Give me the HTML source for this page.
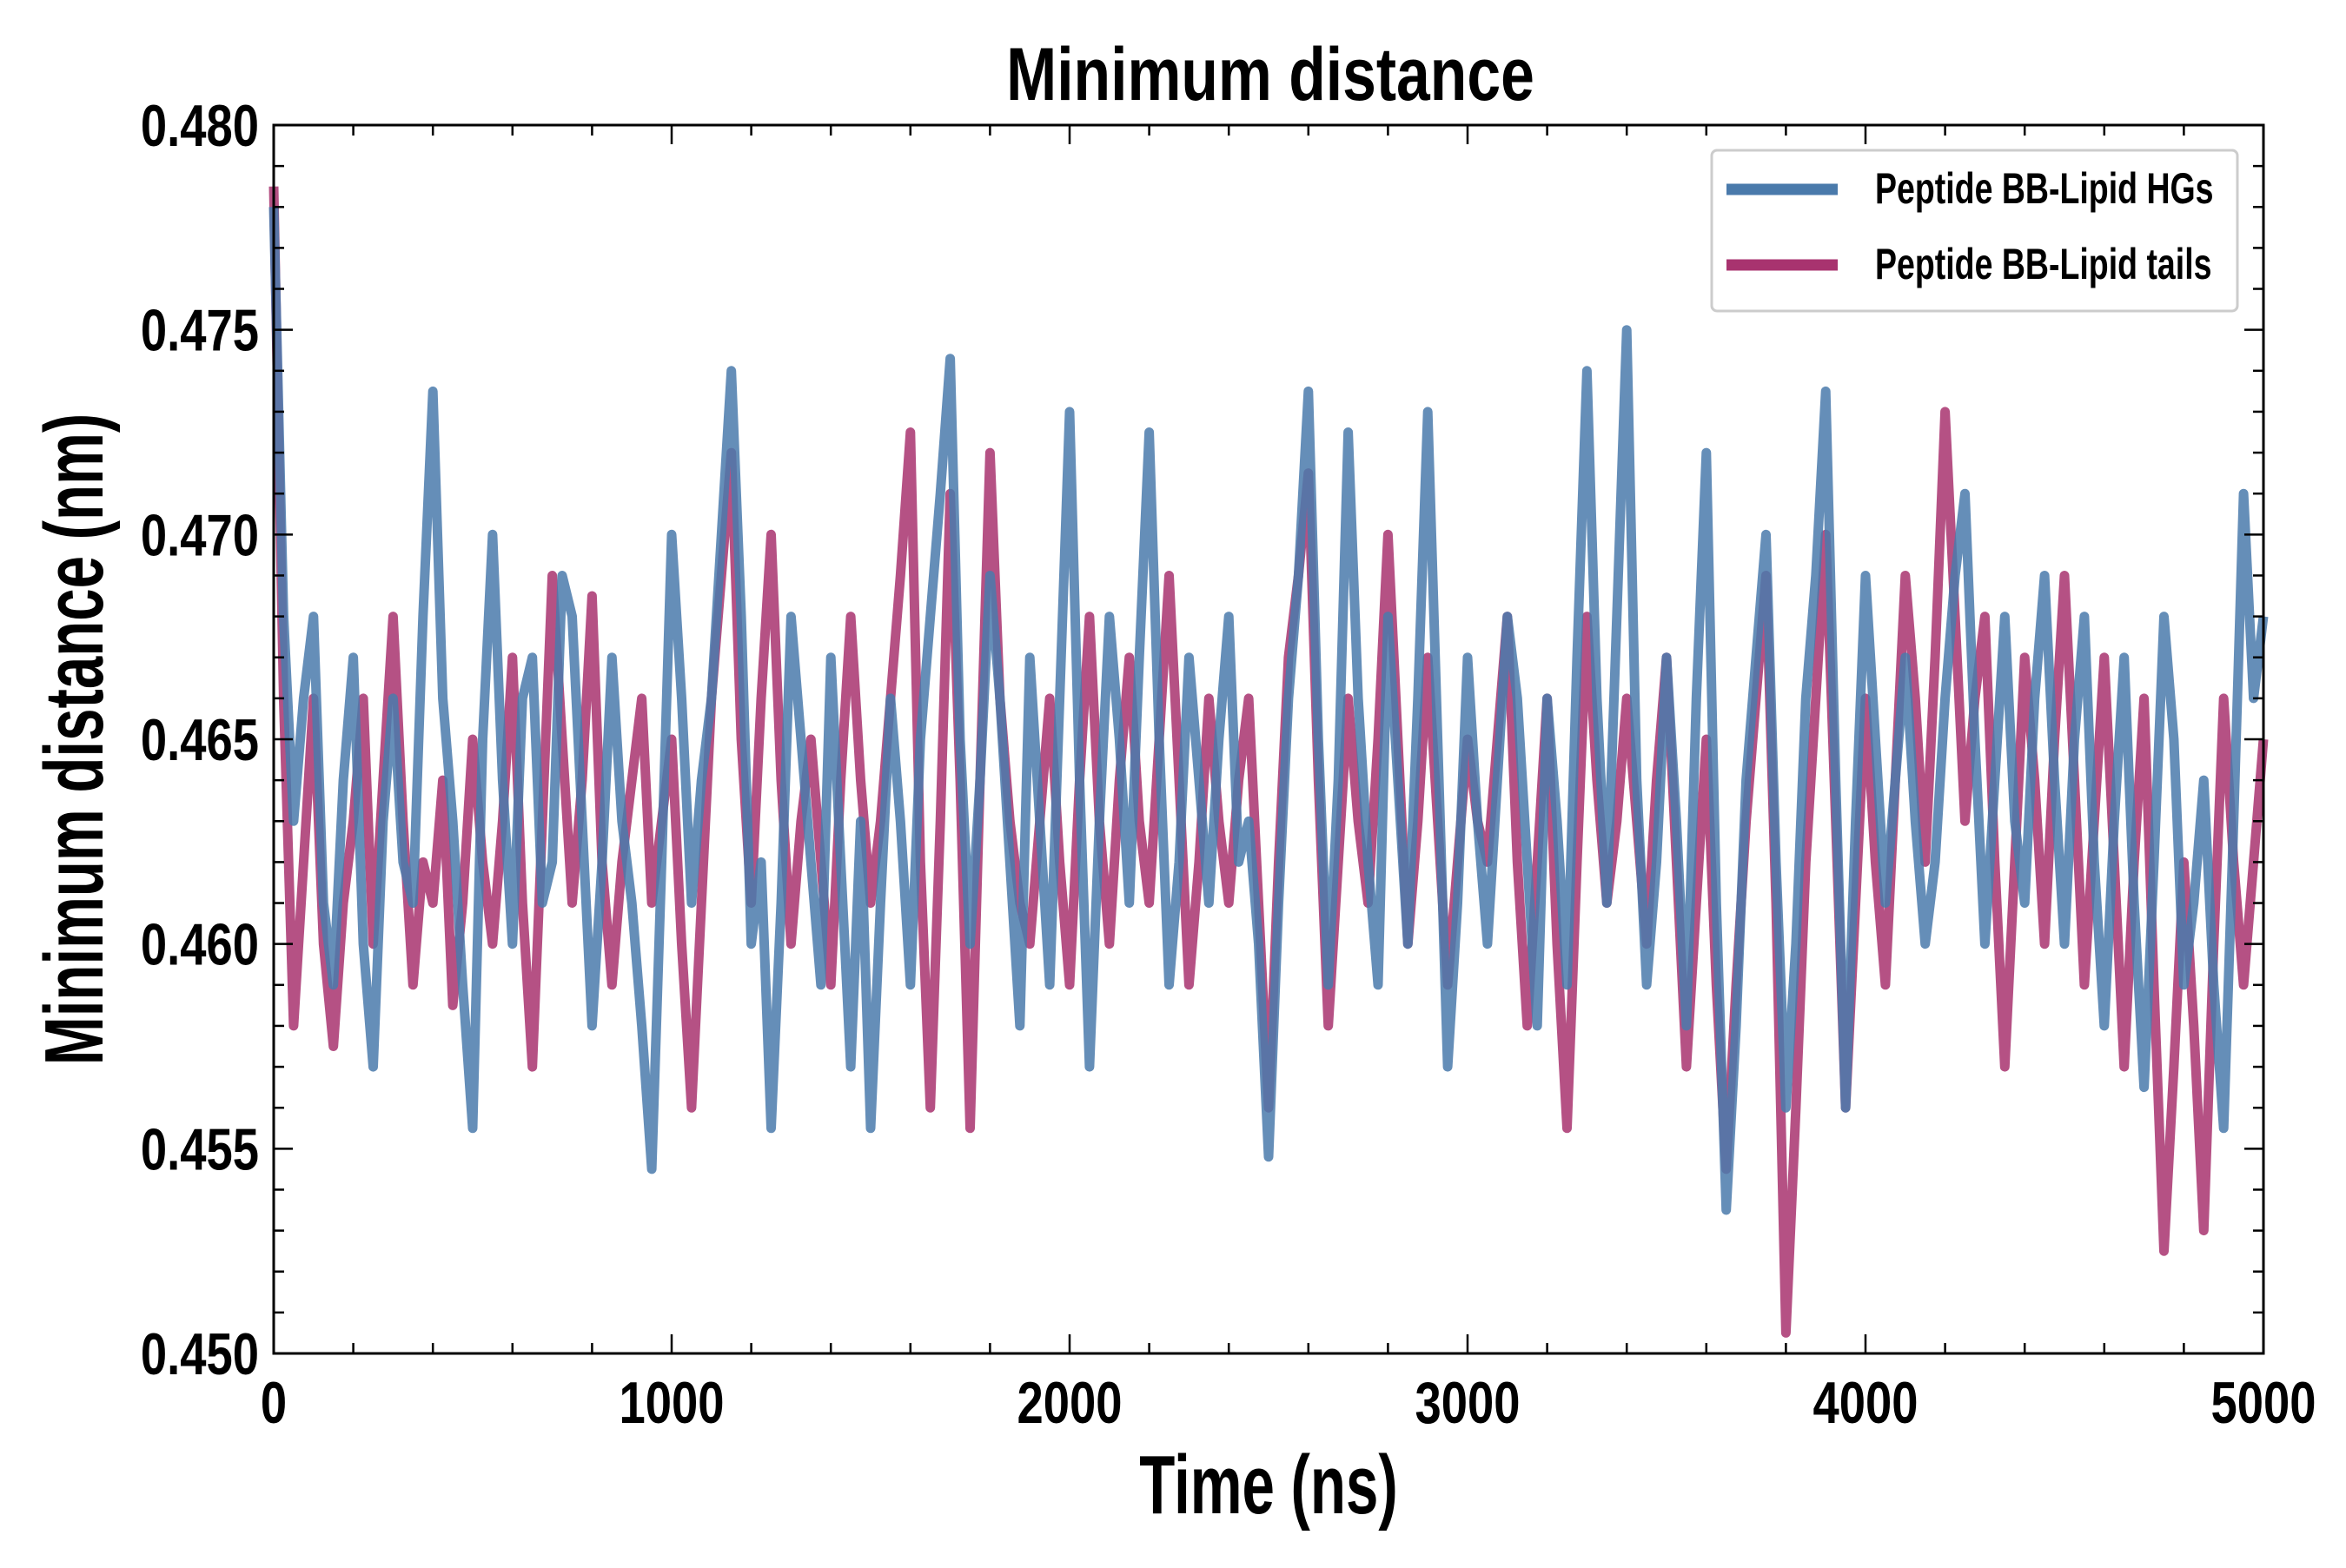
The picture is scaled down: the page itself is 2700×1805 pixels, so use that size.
<!DOCTYPE html>
<html><head><meta charset="utf-8"><style>
html,body{margin:0;padding:0;background:#fff;}
svg text{font-family:"Liberation Sans",sans-serif;font-weight:bold;fill:#000;}
</style></head><body>
<svg id="chart" width="2700" height="1800" viewBox="0 0 2700 1800" xmlns="http://www.w3.org/2000/svg">
<rect width="2700" height="1800" fill="#fff"/>
<g id="series"></g>
<g id="ticks"></g>
<rect x="315" y="144" width="2290" height="1414" fill="none" stroke="#000" stroke-width="3"/>
<text transform="translate(1462,115) scale(0.81,1)" font-size="86" text-anchor="middle">Minimum distance</text>
<text transform="translate(1460,1742) scale(0.7,1)" font-size="96" text-anchor="middle">Time (ns)</text>
<text transform="translate(118,851) rotate(-90) scale(0.7,1)" font-size="96" text-anchor="middle">Minimum distance (nm)</text>
<g>
<rect x="1970" y="173" width="605" height="185" rx="6" fill="#fff" fill-opacity="0.85" stroke="#ccc" stroke-width="3"/>
<line x1="1987" y1="218" x2="2115" y2="218" stroke="#4a7aab" stroke-width="13"/>
<text transform="translate(2158,234) scale(0.75,1)" font-size="50">Peptide BB-Lipid HGs</text>
<line x1="1987" y1="305" x2="2115" y2="305" stroke="#a8336f" stroke-width="13"/>
<text transform="translate(2158,321) scale(0.75,1)" font-size="50">Peptide BB-Lipid tails</text>
</g>
</svg>
<script>
const hgValues = [0.478,0.468,0.463,0.466,0.468,0.461,0.459,0.464,0.467,0.460,0.457,0.463,0.466,0.462,0.461,0.468,0.4735,0.466,0.463,0.459,0.4555,0.465,0.470,0.464,0.460,0.466,0.467,0.461,0.462,0.469,0.468,0.463,0.458,0.462,0.467,0.463,0.461,0.458,0.4545,0.462,0.470,0.466,0.461,0.464,0.466,0.470,0.474,0.468,0.460,0.462,0.4555,0.461,0.468,0.465,0.462,0.459,0.467,0.462,0.457,0.463,0.4555,0.461,0.466,0.463,0.459,0.465,0.468,0.471,0.4743,0.465,0.460,0.464,0.469,0.466,0.462,0.458,0.467,0.463,0.459,0.466,0.473,0.464,0.457,0.463,0.468,0.465,0.461,0.467,0.4725,0.465,0.459,0.462,0.467,0.464,0.461,0.465,0.468,0.462,0.463,0.460,0.4548,0.461,0.466,0.469,0.4735,0.465,0.459,0.464,0.4725,0.466,0.462,0.459,0.468,0.464,0.460,0.466,0.473,0.465,0.457,0.461,0.467,0.463,0.460,0.464,0.468,0.466,0.462,0.458,0.466,0.463,0.459,0.467,0.474,0.466,0.461,0.468,0.475,0.464,0.459,0.462,0.467,0.463,0.458,0.466,0.472,0.461,0.4535,0.458,0.464,0.467,0.470,0.462,0.456,0.460,0.466,0.469,0.4735,0.464,0.456,0.463,0.469,0.465,0.461,0.464,0.467,0.463,0.460,0.462,0.466,0.469,0.471,0.465,0.460,0.464,0.468,0.463,0.461,0.466,0.469,0.464,0.460,0.465,0.468,0.462,0.458,0.463,0.467,0.461,0.4565,0.462,0.468,0.465,0.459,0.461,0.464,0.459,0.4555,0.463,0.471,0.466,0.468];
const tailValues = [0.4785,0.466,0.458,0.462,0.466,0.460,0.4575,0.461,0.463,0.466,0.460,0.464,0.468,0.463,0.459,0.462,0.461,0.464,0.4585,0.461,0.465,0.462,0.460,0.463,0.467,0.461,0.457,0.463,0.469,0.465,0.461,0.464,0.4685,0.462,0.459,0.462,0.464,0.466,0.461,0.463,0.465,0.460,0.456,0.461,0.466,0.469,0.472,0.465,0.461,0.466,0.470,0.464,0.460,0.463,0.465,0.462,0.459,0.464,0.468,0.464,0.461,0.463,0.466,0.469,0.4725,0.462,0.456,0.463,0.471,0.464,0.4555,0.464,0.472,0.466,0.463,0.461,0.460,0.463,0.466,0.462,0.459,0.464,0.468,0.463,0.460,0.464,0.467,0.463,0.461,0.465,0.469,0.464,0.459,0.462,0.466,0.463,0.461,0.464,0.466,0.461,0.456,0.462,0.467,0.469,0.4715,0.464,0.458,0.462,0.466,0.463,0.461,0.465,0.470,0.465,0.460,0.463,0.467,0.463,0.459,0.462,0.465,0.463,0.462,0.465,0.468,0.462,0.458,0.462,0.466,0.460,0.4555,0.462,0.468,0.464,0.461,0.463,0.466,0.463,0.460,0.464,0.467,0.462,0.457,0.461,0.465,0.459,0.4545,0.459,0.463,0.466,0.469,0.461,0.4505,0.456,0.462,0.466,0.470,0.463,0.456,0.461,0.466,0.462,0.459,0.464,0.469,0.466,0.462,0.467,0.473,0.468,0.463,0.466,0.468,0.462,0.457,0.462,0.467,0.464,0.460,0.465,0.469,0.464,0.459,0.463,0.467,0.462,0.457,0.462,0.466,0.459,0.4525,0.457,0.462,0.458,0.453,0.460,0.466,0.462,0.459,0.462,0.465];
const timeStart = 0, timeEnd = 5000;
const xTicks = [0,1000,2000,3000,4000,5000];
const yTicks = [0.450,0.455,0.460,0.465,0.470,0.475,0.480];

const L=315,R=2605,T=144,B=1558;
const xMin=0,xMax=5000,yMin=0.450,yMax=0.480;
const sx=v=>L+(v-xMin)/(xMax-xMin)*(R-L);
const sy=v=>B-(v-yMin)/(yMax-yMin)*(B-T);
const NS="http://www.w3.org/2000/svg";
const sg=document.getElementById('series');
function drawLine(vals,color,name){
  const n=vals.length;
  const tAt=i=>timeStart+i*(timeEnd-timeStart)/(n-1);
  const p=document.createElementNS(NS,'path');
  
  
  p.setAttribute('d',vals.map((v,i)=>(i?'L':'M')+sx(tAt(i)).toFixed(1)+','+sy(v).toFixed(1)).join(''));
  p.setAttribute('fill','none');p.setAttribute('stroke',color);
  p.setAttribute('stroke-width','11');p.setAttribute('stroke-linejoin','round');
  p.setAttribute('stroke-opacity','0.85');
  sg.appendChild(p);
}
drawLine(tailValues,'#a8336f','series-lipid-tails');
drawLine(hgValues,'#4a7aab','series-lipid-hgs');

const tg=document.getElementById('ticks');
function ln(x1,y1,x2,y2){const l=document.createElementNS(NS,'line');
  
  
  l.setAttribute('x1',x1);l.setAttribute('y1',y1);l.setAttribute('x2',x2);l.setAttribute('y2',y2);
  l.setAttribute('stroke','#000');l.setAttribute('stroke-width','2.5');tg.appendChild(l);}
function tx(x,y,s,anchor){const t=document.createElementNS(NS,'text');
  
  
  t.setAttribute('transform','translate('+x+','+y+') scale(0.8,1)');
  t.setAttribute('font-size','68');
  t.setAttribute('text-anchor',anchor);t.textContent=s;tg.appendChild(t);}
for(let v=0;v<=5000;v+=200){const x=sx(v);const maj=v%1000===0;const len=maj?22:12;
  ln(x,B,x,B-len);ln(x,T,x,T+len);}
for(let i=0;i<=30;i++){const v=yMin+i*0.001;const y=sy(v);const maj=i%5===0;const len=maj?22:12;
  ln(L,y,L+len,y);ln(R,y,R-len,y);}
xTicks.forEach(v=>tx(sx(v),1638,String(v),'middle'));
yTicks.forEach(v=>tx(298,sy(v)+24,v.toFixed(3),'end'));
</script>
</body></html>
